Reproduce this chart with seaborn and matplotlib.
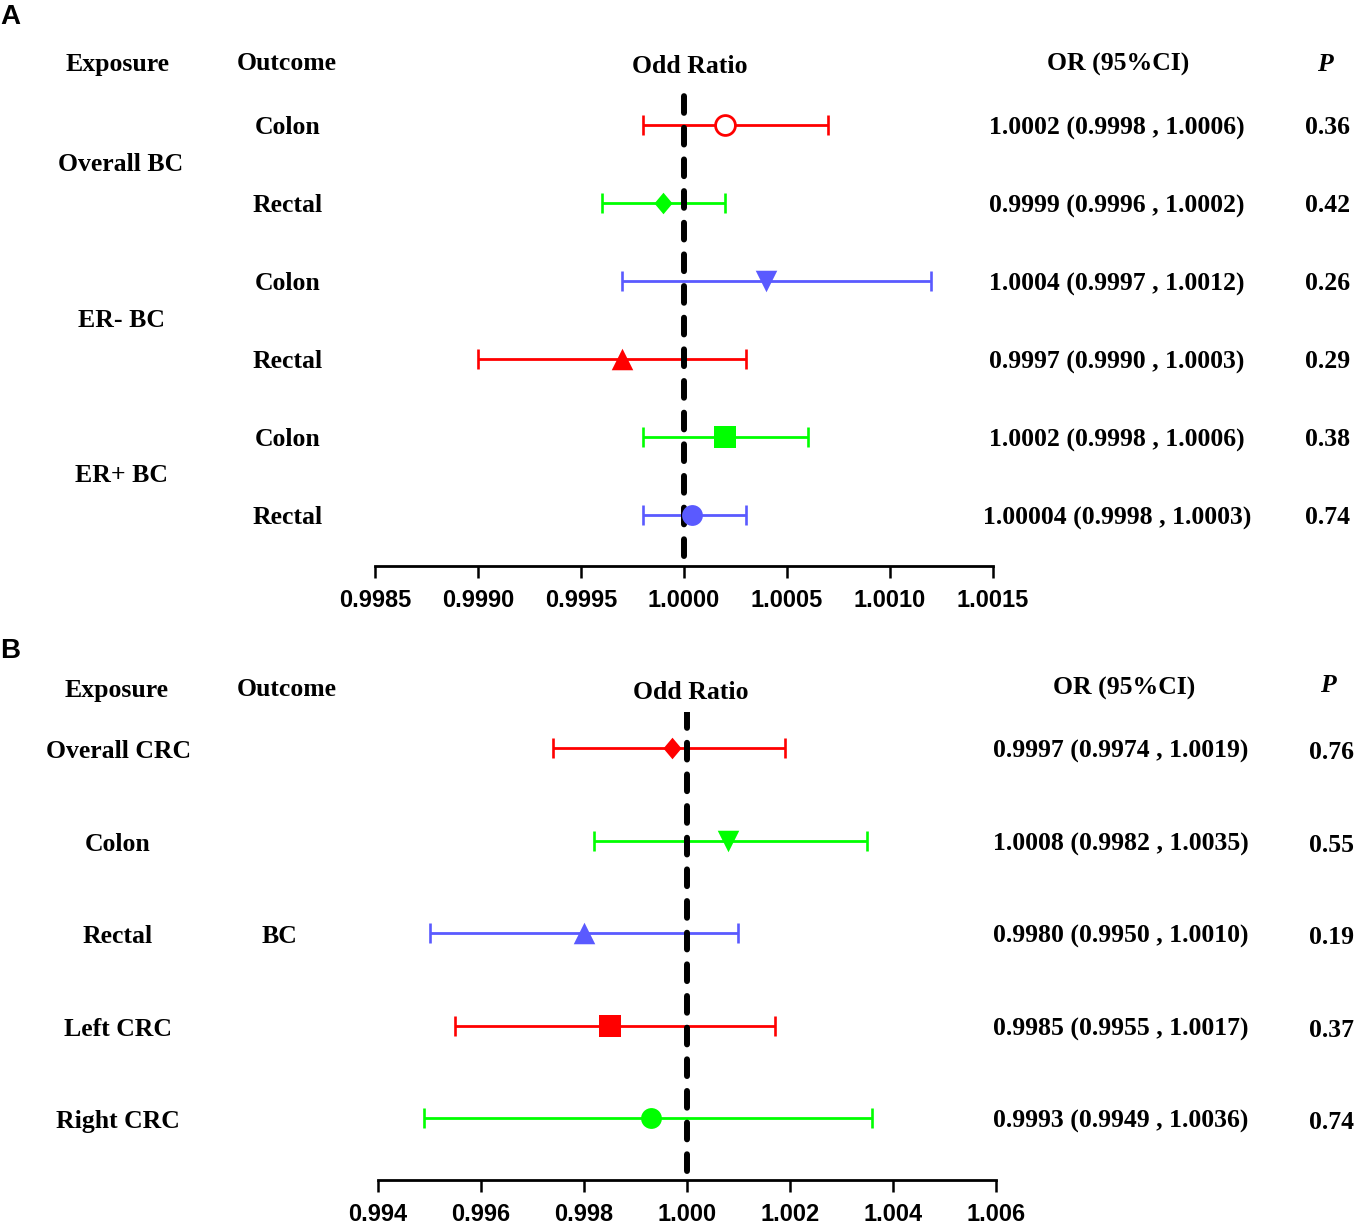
import matplotlib
matplotlib.use("Agg")
from matplotlib import pyplot as plt
from matplotlib import transforms
import seaborn as sns

# ---- panel A data: breast cancer -> colorectal cancer
a_exposure = ["Overall BC", "ER- BC", "ER+ BC"]
a_outcome = ["Colon", "Rectal", "Colon", "Rectal", "Colon", "Rectal"]
a_or = [1.0002, 0.9999, 1.0004, 0.9997, 1.0002, 1.00004]
a_lo = [0.9998, 0.9996, 0.9997, 0.9990, 0.9998, 0.9998]
a_hi = [1.0007, 1.0002, 1.0012, 1.0003, 1.0006, 1.0003]
a_ci_text = ["1.0002 (0.9998 , 1.0006)", "0.9999 (0.9996 , 1.0002)",
             "1.0004 (0.9997 , 1.0012)", "0.9997 (0.9990 , 1.0003)",
             "1.0002 (0.9998 , 1.0006)", "1.00004 (0.9998 , 1.0003)"]
a_p = ["0.36", "0.42", "0.26", "0.29", "0.38", "0.74"]
a_ticks = [0.9985, 0.9990, 0.9995, 1.0000, 1.0005, 1.0010, 1.0015]

# ---- panel B data: colorectal cancer -> breast cancer
b_exposure = ["Overall CRC", "Colon", "Rectal", "Left CRC", "Right CRC"]
b_outcome = "BC"
b_or = [0.9997, 1.0008, 0.9980, 0.9985, 0.9993]
b_lo = [0.9974, 0.9982, 0.9950, 0.9955, 0.9949]
b_hi = [1.0019, 1.0035, 1.0010, 1.0017, 1.0036]
b_ci_text = ["0.9997 (0.9974 , 1.0019)", "1.0008 (0.9982 , 1.0035)",
             "0.9980 (0.9950 , 1.0010)", "0.9985 (0.9955 , 1.0017)",
             "0.9993 (0.9949 , 1.0036)"]
b_p = ["0.76", "0.55", "0.19", "0.37", "0.74"]
b_ticks = [0.994, 0.996, 0.998, 1.000, 1.002, 1.004, 1.006]

# styles
RED, GREEN, BLUE = "#FF0000", "#00FF00", "#5A5AFF"
DIAMOND = [(0, 1), (0.84, 0), (0, -1), (-0.84, 0)]
a_colors = [RED, GREEN, BLUE, RED, GREEN, BLUE]
a_markers = ["o", DIAMOND, "v", "^", "s", "o"]
a_open = [True, False, False, False, False, False]
b_colors = [RED, GREEN, BLUE, RED, GREEN]
b_markers = [DIAMOND, "v", "^", "s", "o"]

sns.set_style("white")
SERIF = ["Liberation Serif", "DejaVu Serif"]
SANS = ["Liberation Sans", "DejaVu Sans"]
FS = 18.5

W, H = 1358, 1225
fig = plt.figure(figsize=(W / 100, H / 100), dpi=100)


def px_axes(x0, x1, ytop, ybot):
    return fig.add_axes([x0 / W, 1 - ybot / H, (x1 - x0) / W, (ybot - ytop) / H])


def forest(ax, ors, los, his, colors, markers, opens, ticks, fmt, ylim):
    n = len(ors)
    rows = list(range(n))
    for i in rows:
        ax.errorbar(ors[i], i, xerr=[[ors[i] - los[i]], [his[i] - ors[i]]],
                    fmt="none", ecolor=colors[i], elinewidth=2.0,
                    capsize=7.5, capthick=1.9, zorder=2)
    ax.axvline(1.0, ymin=0.02, ymax=1, color="black", lw=4.3,
               dashes=(2.8, 2.5), dash_capstyle="round", zorder=3)
    for i in rows:
        m = markers[i]
        size = 15.0 if m == "o" else 15.5
        if opens[i]:
            sns.scatterplot(x=[ors[i]], y=[i], marker=m, s=(size - 0.7) ** 2,
                            color="white", edgecolor=colors[i], linewidth=2.0,
                            ax=ax, zorder=4)
        else:
            sns.scatterplot(x=[ors[i]], y=[i], marker=m, s=size ** 2,
                            color=colors[i], edgecolor=colors[i], linewidth=0,
                            ax=ax, zorder=4)
    ax.set_xlim(ticks[0], ticks[-1])
    ax.set_ylim(ylim)
    ax.set_xticks(ticks)
    ax.set_xticklabels([fmt % t for t in ticks], fontfamily=SANS,
                       fontweight="bold", fontsize=17)
    ax.set_yticks([])
    ax.set_xlabel("")
    ax.set_ylabel("")
    for s in ["left", "top", "right"]:
        ax.spines[s].set_visible(False)
    ax.spines["bottom"].set_linewidth(2.0)
    ax.spines["bottom"].set_color("black")
    ax.tick_params(axis="x", direction="out", length=8.5, width=1.8,
                   color="black", labelcolor="black", pad=8, bottom=True)
    ax.patch.set_alpha(0)


def txt(trans, x, y, s, **kw):
    kw.setdefault("fontfamily", SERIF)
    kw.setdefault("fontweight", "bold")
    kw.setdefault("fontsize", FS)
    fig.text(x / W, y, s, transform=trans, ha="center", va="center",
             color="black", **kw)


# ---------------- panel A
axA = px_axes(375, 993, 85, 566)
forest(axA, a_or, a_lo, a_hi, a_colors, a_markers, a_open, a_ticks, "%.4f",
       (5.654, -0.513))
tA = transforms.blended_transform_factory(fig.transFigure, axA.transData)
txt(tA, 118, -0.78, "Exposure")
txt(tA, 287, -0.79, "Outcome")
txt(tA, 690, -0.75, "Odd Ratio")
txt(tA, 1118, -0.78, "OR (95%CI)")
txt(tA, 1325, -0.78, "P", fontstyle="italic")
for k, name in enumerate(a_exposure):
    txt(tA, 121, 2 * k + 0.5, name)
for i in range(len(a_or)):
    txt(tA, 288, i + 0.03, a_outcome[i])
    txt(tA, 1117, i + 0.04, a_ci_text[i])
    txt(tA, 1328, i + 0.03, a_p[i])
fig.text(10 / W, 1 - 17 / H, "A", fontfamily=SANS, fontweight="bold",
         fontsize=20, ha="center", va="center", color="black")

# ---------------- panel B
axB = px_axes(378, 996, 712, 1180)
forest(axB, b_or, b_lo, b_hi, b_colors, b_markers, [False] * 5, b_ticks, "%.3f",
       (4.67, -0.39))
tB = transforms.blended_transform_factory(fig.transFigure, axB.transData)
txt(tB, 117, -0.62, "Exposure")
txt(tB, 287, -0.63, "Outcome")
txt(tB, 691, -0.60, "Odd Ratio")
txt(tB, 1124, -0.64, "OR (95%CI)")
txt(tB, 1328, -0.68, "P", fontstyle="italic")
for i in range(len(b_or)):
    txt(tB, 118, i + 0.04, b_exposure[i])
    txt(tB, 1121, i + 0.04, b_ci_text[i])
    txt(tB, 1331, i + 0.05, b_p[i])
txt(tB, 279, 2.04, b_outcome)
fig.text(10 / W, 1 - 651 / H, "B", fontfamily=SANS, fontweight="bold",
         fontsize=20, ha="center", va="center", color="black")

fig.savefig("out.png", dpi=100, facecolor="white")
